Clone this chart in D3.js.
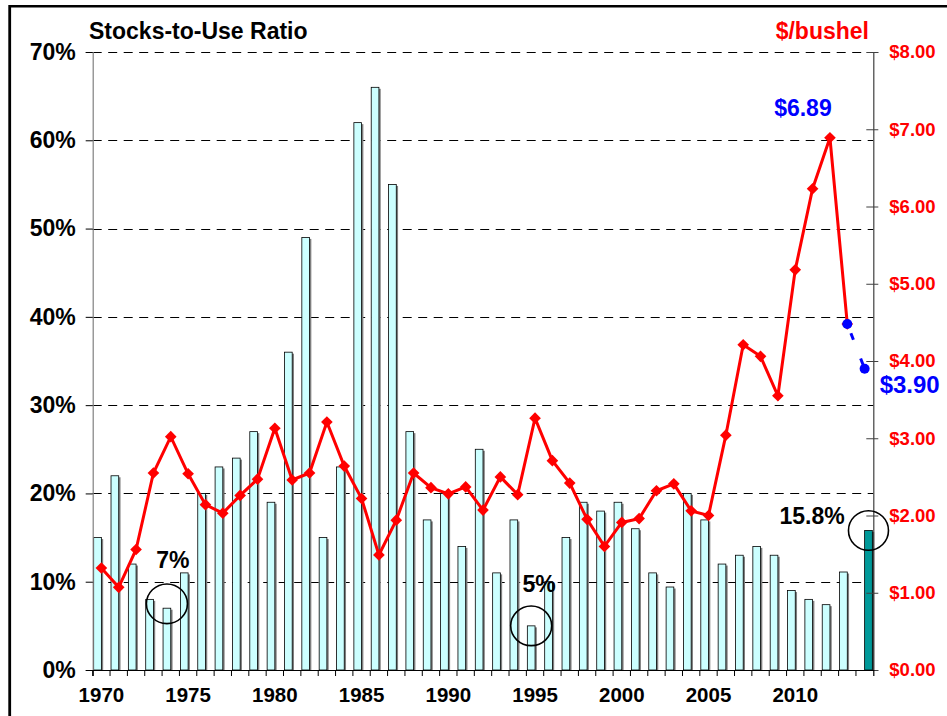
<!DOCTYPE html>
<html>
<head>
<meta charset="utf-8">
<script src="https://cdn.jsdelivr.net/npm/d3@7"></script>
<style>
body { margin: 0; background: #fff; }
svg text { font-family: "Liberation Sans", Arial, sans-serif; font-weight: bold; }
</style>
</head>
<body>
<div id="chart"></div>
<script>
// crop years
var years = [1970,1971,1972,1973,1974,1975,1976,1977,1978,1979,
             1980,1981,1982,1983,1984,1985,1986,1987,1988,1989,
             1990,1991,1992,1993,1994,1995,1996,1997,1998,1999,
             2000,2001,2002,2003,2004,2005,2006,2007,2008,2009,
             2010,2011,2012,2013,2014];

// stocks-to-use ratio, %
var stocksToUse = [15,22,12,8,7,11,20,23,24,27,
                   19,36,49,15,23,62,66,55,27,17,
                   20,14,25,11,17,5,10,15,19,18,
                   19,16,11,9.4,20,17,12,13,14,13,
                   9,8,7.4,11.1,null];
// projected stocks-to-use (last year only)
var stocksProjected = [null,null,null,null,null,null,null,null,null,null,
                       null,null,null,null,null,null,null,null,null,null,
                       null,null,null,null,null,null,null,null,null,null,
                       null,null,null,null,null,null,null,null,null,null,
                       null,null,null,null,15.8];

// season-average price, $/bushel
var price = [1.32,1.07,1.56,2.55,3.02,2.54,2.14,2.03,2.26,2.47,
             3.13,2.46,2.55,3.21,2.64,2.22,1.49,1.94,2.55,2.36,
             2.28,2.37,2.07,2.50,2.27,3.26,2.71,2.42,1.95,1.60,
             1.91,1.96,2.32,2.41,2.06,2.00,3.04,4.21,4.06,3.55,
             5.18,6.23,6.89,4.48,null];
var priceProjected = [null,null,null,null,null,null,null,null,null,null,
                      null,null,null,null,null,null,null,null,null,null,
                      null,null,null,null,null,null,null,null,null,null,
                      null,null,null,null,null,null,null,null,null,null,
                      null,null,null,4.48,3.90];

var leftTicks = [0,10,20,30,40,50,60,70];
var rightTicks = [0,1,2,3,4,5,6,7,8];
var labelYears = [1970,1975,1980,1985,1990,1995,2000,2005,2010];

var width = 947, height = 716;
var plotLeft = 92.7, plotRight = 873.3, plotTop = 52, plotBottom = 670;

var svg = d3.select("#chart").append("svg")
  .attr("width", width)
  .attr("height", height);

// frame
svg.append("line").attr("x1", 9.7).attr("x2", width).attr("y1", 6.2).attr("y2", 6.2)
  .attr("stroke", "#000").attr("stroke-width", 2.5);
svg.append("line").attr("x1", 9.7).attr("x2", 9.7).attr("y1", 5).attr("y2", height)
  .attr("stroke", "#000").attr("stroke-width", 2.8);

var x = d3.scaleBand().domain(years).range([plotLeft, plotRight]).padding(0);
var bw = x.bandwidth();
var barW = 7.7;
var cx = function(yr) { return x(yr) + bw / 2; };

var yL = d3.scaleLinear().domain([0, 70]).range([plotBottom, plotTop]);
var yR = d3.scaleLinear().domain([0, 8]).range([plotBottom, plotTop]);

// dashed gridlines
svg.append("g").selectAll("line")
  .data(leftTicks.filter(function(d) { return d > 0; }))
  .enter().append("line")
  .attr("x1", plotLeft).attr("x2", plotRight)
  .attr("y1", function(d) { return Math.round(yL(d)) + 0.5; })
  .attr("y2", function(d) { return Math.round(yL(d)) + 0.5; })
  .attr("stroke", "#000").attr("stroke-width", 1)
  .attr("stroke-dasharray", "9,6.5");

// bars (shadow first)
var barData = years.map(function(yr, i) { return {year: yr, v: stocksToUse[i], p: stocksProjected[i]}; });

var bars = svg.append("g");
bars.selectAll("rect.shadowA")
  .data(barData.filter(function(d) { return d.v != null; }))
  .enter().append("rect")
  .attr("x", function(d) { return cx(d.year) - barW + 1.8; })
  .attr("y", function(d) { return yL(d.v) + 1.5; })
  .attr("width", barW)
  .attr("height", function(d) { return plotBottom - yL(d.v) - 1.5; })
  .attr("fill", "#7f7f7f");
bars.selectAll("rect.barA")
  .data(barData.filter(function(d) { return d.v != null; }))
  .enter().append("rect")
  .attr("x", function(d) { return cx(d.year) - barW; })
  .attr("y", function(d) { return yL(d.v); })
  .attr("width", barW)
  .attr("height", function(d) { return plotBottom - yL(d.v); })
  .attr("fill", "#CCFFFF")
  .attr("stroke", "#000").attr("stroke-width", 0.8);

bars.selectAll("rect.shadowB")
  .data(barData.filter(function(d) { return d.p != null; }))
  .enter().append("rect")
  .attr("x", function(d) { return cx(d.year) + 1.8; })
  .attr("y", function(d) { return yL(d.p) + 1.5; })
  .attr("width", barW)
  .attr("height", function(d) { return plotBottom - yL(d.p) - 1.5; })
  .attr("fill", "#555");
bars.selectAll("rect.barB")
  .data(barData.filter(function(d) { return d.p != null; }))
  .enter().append("rect")
  .attr("x", function(d) { return cx(d.year); })
  .attr("y", function(d) { return yL(d.p); })
  .attr("width", barW)
  .attr("height", function(d) { return plotBottom - yL(d.p); })
  .attr("fill", "#009999")
  .attr("stroke", "#000").attr("stroke-width", 0.8);

// left axis
var axL = svg.append("g")
  .attr("transform", "translate(" + plotLeft + ",0)")
  .call(d3.axisLeft(yL).tickValues(leftTicks).tickSize(7).tickPadding(10)
    .tickFormat(function(d) { return d + "%"; }));
axL.select(".domain").attr("stroke", "#808080").attr("stroke-width", 1.2);
axL.selectAll(".tick line").attr("stroke", "#000");
axL.selectAll("text").attr("font-size", 23).attr("fill", "#000");

// right axis
var axR = svg.append("g")
  .attr("transform", "translate(" + plotRight + ",0)")
  .call(d3.axisRight(yR).tickValues(rightTicks).tickSize(5).tickPadding(11)
    .tickFormat(function(d) { return "$" + d.toFixed(2); }));
axR.select(".domain").attr("stroke", "#404040").attr("stroke-width", 1.2);
axR.selectAll(".tick line").attr("x1", -7).attr("stroke", "#404040");
axR.selectAll("text").attr("font-size", 18.5).attr("fill", "#FF0000");

// bottom axis: tick marks on category boundaries, labels every 5 years
var axB = svg.append("g")
  .attr("transform", "translate(0," + plotBottom + ")")
  .call(d3.axisBottom(x).tickValues(years).tickSize(6).tickFormat(""));
axB.select(".domain").attr("stroke", "#000").attr("stroke-width", 1.2);
axB.selectAll(".tick line").attr("transform", "translate(" + (-bw / 2) + ",0)").attr("stroke", "#000");
var axB2 = svg.append("g")
  .attr("transform", "translate(0," + plotBottom + ")")
  .call(d3.axisBottom(x).tickValues(labelYears).tickSize(0).tickPadding(17));
axB2.select(".domain").remove();
axB2.selectAll("text").attr("font-size", 20.5).attr("fill", "#000");

// price line
var priceData = years.map(function(yr, i) { return {year: yr, v: price[i]}; });
var projData = years.map(function(yr, i) { return {year: yr, v: priceProjected[i]}; })
  .filter(function(d) { return d.v != null; });

var line = d3.line()
  .defined(function(d) { return d.v != null; })
  .x(function(d) { return cx(d.year); })
  .y(function(d) { return yR(d.v); });

svg.append("path").datum(priceData)
  .attr("d", line)
  .attr("fill", "none").attr("stroke", "#FF0000").attr("stroke-width", 3);

svg.append("g").selectAll("path")
  .data(priceData.filter(function(d) { return d.v != null; }))
  .enter().append("path")
  .attr("d", d3.symbol(d3.symbolSquare, 68))
  .attr("transform", function(d) { return "translate(" + cx(d.year) + "," + yR(d.v) + ") rotate(45)"; })
  .attr("fill", "#FF0000");

svg.append("path").datum(projData)
  .attr("d", line)
  .attr("fill", "none").attr("stroke", "#0000FF").attr("stroke-width", 3)
  .attr("stroke-dasharray", "0,10,7,10");

svg.append("g").selectAll("circle")
  .data(projData)
  .enter().append("circle")
  .attr("cx", function(d) { return cx(d.year); })
  .attr("cy", function(d) { return yR(d.v); })
  .attr("r", 5)
  .attr("fill", "#0000FF");

// titles
svg.append("text").attr("x", 89).attr("y", 39).attr("font-size", 23).attr("fill", "#000")
  .text("Stocks-to-Use Ratio");
svg.append("text").attr("x", 869).attr("y", 39).attr("font-size", 23).attr("fill", "#FF0000")
  .attr("text-anchor", "end").text("$/bushel");

// annotation circles around low / projected stocks
var notes = [
  {year: 1974, v: 7.5, label: "7%", dx: 6, dy: -36},
  {year: 1995, v: 5, label: "5%", dx: 8, dy: -34}
];
notes.forEach(function(n) {
  var ccx = cx(n.year) - barW / 2;
  svg.append("ellipse").attr("cx", ccx).attr("cy", yL(n.v))
    .attr("rx", 20.5).attr("ry", 19.8)
    .attr("fill", "none").attr("stroke", "#000").attr("stroke-width", 1.6);
  svg.append("text").attr("x", ccx + n.dx).attr("y", yL(n.v) + n.dy)
    .attr("text-anchor", "middle").attr("font-size", 23).attr("fill", "#000")
    .text(n.label);
});
var lastYr = years[years.length - 1];
var pv = stocksProjected[stocksProjected.length - 1];
svg.append("ellipse").attr("cx", cx(lastYr) + barW / 2).attr("cy", yL(pv))
  .attr("rx", 20).attr("ry", 19.8)
  .attr("fill", "none").attr("stroke", "#000").attr("stroke-width", 1.6);
svg.append("text").attr("x", cx(lastYr) - 20).attr("y", yL(pv) - 7)
  .attr("text-anchor", "end").attr("font-size", 23).attr("fill", "#000")
  .text(pv + "%");

// price call-outs
var peakIdx = price.indexOf(d3.max(price));
svg.append("text").attr("x", cx(years[peakIdx]) - 27).attr("y", yR(price[peakIdx]) - 22)
  .attr("text-anchor", "middle").attr("font-size", 23).attr("fill", "#0000FF")
  .text("$" + price[peakIdx].toFixed(2));
var lastP = projData[projData.length - 1];
svg.append("text").attr("x", cx(lastP.year) + 15).attr("y", yR(lastP.v) + 24)
  .attr("font-size", 24).attr("fill", "#0000FF")
  .text("$" + lastP.v.toFixed(2));
</script>
</body>
</html>
